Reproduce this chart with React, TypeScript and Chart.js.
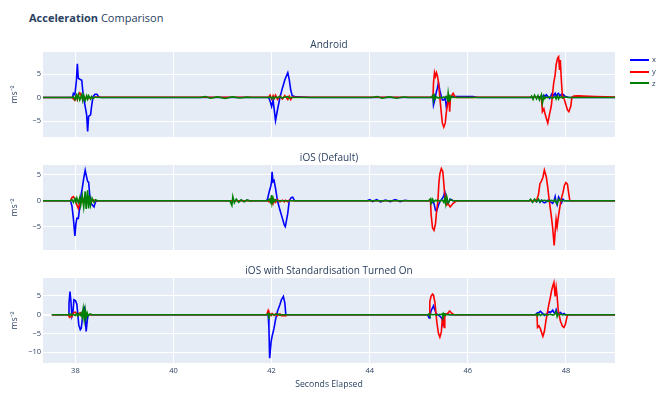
import { useEffect, useRef } from "react";
import { Chart, registerables } from "chart.js";

Chart.register(...registerables);

const FONT = '"Open Sans", verdana, arial, sans-serif';
const TEXT = "#2a3f5f";
Chart.defaults.font.family = FONT;
Chart.defaults.color = TEXT;

const seriesNames = ["x", "y", "z"];
const seriesColors = ["#0000ff", "#ff0000", "#008000"];
const xTicks = [38, 40, 42, 44, 46, 48];
const xRange = [37.34, 49.0];

// Android
const androidTime = [
  37.34, 37.94, 37.96, 37.99, 38.02, 38.04, 38.06, 38.09, 38.13, 38.15, 38.17, 38.2, 38.23, 38.25, 38.27,
  38.31, 38.33, 38.36, 38.4, 38.44, 38.48, 38.52, 40.55, 40.65, 40.75, 40.9, 41.05, 41.2, 41.35, 41.5,
  41.6, 41.94, 41.97, 42.0, 42.03, 42.05, 42.08, 42.12, 42.17, 42.22, 42.27, 42.33, 42.36, 42.39, 42.42,
  42.47, 42.61, 42.8, 44.05, 44.15, 44.25, 44.4, 44.55, 44.7, 44.8, 45.25, 45.29, 45.3, 45.32, 45.34,
  45.36, 45.38, 45.4, 45.43, 45.46, 45.48, 45.51, 45.54, 45.56, 45.59, 45.6, 45.62, 45.63, 45.645, 45.665,
  45.7, 45.73, 45.77, 46.1, 46.2, 47.28, 47.3, 47.33, 47.36, 47.4, 47.43, 47.46, 47.5, 47.52, 47.55,
  47.57, 47.6, 47.63, 47.67, 47.7, 47.72, 47.75, 47.78, 47.8, 47.83, 47.85, 47.87, 47.885, 47.91, 47.93,
  47.95, 47.99, 48.03, 48.06, 48.1, 48.12, 48.16, 48.25, 48.35, 48.6, 49.0,
];
const androidX = [
  0, 0, 0.9, 0.6, 3.5, 7.2, 4.1, 3.9, 3.7, 1.5, -0.2, -1.9, -3.7, -7.2, -4.0,
  -3.7, -1.9, 0.2, 0.7, 0.7, 0.1, 0, 0, 0, 0, 0, 0, 0, 0, 0,
  0, 0, -0.8, -1.9, -0.5, -2.3, -4.9, -2.6, 0, 2.0, 3.8, 5.3, 3.8, 1.6, 0.4,
  0.2, 0.1, 0, 0, 0, 0, 0, 0, 0, 0, 0, 0, -1.6, -0.8, 0.2,
  1.3, 2.0, 3.1, 1.5, 0.2, -0.5, -0.5, 0, -1.9, -0.8, 0, 0.1, 0.1, 0.1, 0.2,
  0.2, 0.2, 0.2, 0.2, 0, 0, 0, 0, 0.1, 0, 0.2, 0.1, 0.3, 0.2, 0.5,
  0.2, 0.6, 0.2, -0.2, 0.5, 0.9, 0.4, 0.9, 0.3, 0.8, 0.9, 0.3, 0.5, 0.7, 0.3,
  0.6, 0.2, 0.1, 0, 0, 0, 0, 0, 0, 0, 0,
];
const androidY = [
  0, 0, -0.3, -0.6, 0.3, -0.4, 0.5, 1.0, 0.2, -0.4, 0.3, -0.3, 0.2, -0.3, 0.2,
  -0.2, 0.1, -0.1, 0.1, 0.1, 0.07, 0.07, 0.07, 0.07, 0.07, 0.07, 0.07, 0.07, 0.07, 0.07,
  0.07, 0.1, 0.5, -0.3, 0.4, -0.2, 0.5, -0.4, 0.3, -0.3, 0.4, -0.4, 0.3, -0.4, 0.1,
  0.07, 0.07, 0.07, 0.05, 0.05, 0.05, 0.05, 0.05, 0.05, 0.05, 0.05, 0, 3.1, 5.3, 4.5,
  5.3, 4.6, 3.4, 0, -3.3, -5.4, -6.3, -5.4, -3.3, -1.2, 0, -1.2, -3.0, 0, 0.3,
  0.9, 0.3, 0, 0, 0.05, 0.05, 0.05, 0.05, 0.05, 0.05, 0, 0, 0, -3.0, -2.4,
  -3.3, -4.4, -5.4, -3.3, -1.9, 0, 3.1, 4.8, 7.0, 8.4, 8.7, 5.9, 8.0, 3.1, 0,
  0.2, -1.2, -2.6, -3.0, -1.8, 0, 0.3, 0.35, 0.3, 0.2, 0.12,
];
const androidZ = [
  0, 0, 0.2, -0.4, 0.5, -0.3, 0.6, -0.5, 0.6, -0.6, 0.5, -0.6, 0.4, -0.3, 0.4,
  -0.3, 0.2, -0.2, 0.1, 0, 0, 0, 0, 0.2, -0.15, 0.15, -0.2, 0.15, -0.1, 0.1,
  0, 0, 0.2, -0.2, 0.1, -0.2, 0.1, 0, 0.2, -0.1, 0.1, 0.2, -0.1, 0, 0,
  0, 0, 0, 0, 0.2, -0.15, 0.15, -0.15, 0.1, 0, 0, 0.5, -0.6, 0.4, -0.2,
  0.1, 0, -0.1, 0.1, -0.1, 0, 0.1, 0, 0.2, -0.5, 0.9, -0.7, 0.6, -0.3, 0.2,
  0, 0, 0, 0, 0, 0, 0.3, -0.4, 0.5, -0.3, 0.4, -0.5, 0.6, -1.2, 0.3,
  -0.2, 0.1, 0, 0.1, 0, -0.1, 0, 0.2, -0.3, 0.4, -0.3, 0.1, 0, 0.2, -0.1,
  0, 0.1, 0, 0, 0, 0, 0, 0, 0, 0, 0,
];
const androidYRange = [-8.4, 9.7];
const androidTicks = [-5, 0, 5];

// iOS (Default)
const iosTime = [
  37.34, 37.9, 37.93, 37.96, 37.99, 38.01, 38.03, 38.06, 38.09, 38.11, 38.14, 38.17, 38.2, 38.22, 38.25,
  38.27, 38.29, 38.31, 38.34, 38.38, 38.41, 38.45, 41.15, 41.19, 41.21, 41.24, 41.28, 41.33, 41.38, 41.44,
  41.5, 41.56, 41.62, 41.9, 41.92, 41.95, 41.98, 42.0, 42.01, 42.03, 42.05, 42.08, 42.12, 42.17, 42.22,
  42.26, 42.28, 42.33, 42.36, 42.4, 42.43, 42.47, 43.95, 44.0, 44.06, 44.14, 44.22, 44.32, 44.42, 44.52,
  44.62, 44.72, 44.78, 45.2, 45.24, 45.25, 45.28, 45.31, 45.34, 45.36, 45.39, 45.41, 45.43, 45.46, 45.49,
  45.51, 45.53, 45.55, 45.57, 45.6, 45.64, 45.7, 45.77, 47.25, 47.28, 47.32, 47.36, 47.4, 47.44, 47.47,
  47.5, 47.53, 47.56, 47.6, 47.63, 47.66, 47.7, 47.73, 47.76, 47.78, 47.8, 47.82, 47.85, 47.88, 47.91,
  47.94, 47.97, 48.0, 48.03, 48.06, 48.08, 49.0,
];
const iosX = [
  0, 0, -1.0, -3.5, -6.8, -4.5, -3.4, -3.4, -1.2, 0.8, 2.4, 4.3, 5.9, 5.0, 3.7,
  3.6, 1.4, -0.2, -0.8, -1.2, -0.2, 0, 0, 0, 0, 0, 0.1, -0.1, 0.1, -0.1,
  0.1, 0, 0, 0, 0.5, 1.7, 2.7, 3.7, 5.6, 3.7, 3.9, 2.4, 0, -1.8, -3.4,
  -4.7, -5.0, -2.4, 0, 0.6, 0.7, 0, 0, 0.2, -0.15, 0.2, -0.2, 0.15, -0.15, 0.2,
  -0.15, 0.1, 0, 0, 0, 0, -0.3, -0.5, -1.8, -2.0, -1.2, -0.6, -0.2, 0.2, 0.6,
  1.0, 1.7, 0.9, 0.2, -0.5, 0.3, 0, 0, 0, 0.1, -0.2, 0.2, -0.2, 0.2, -0.3,
  0.1, -0.2, -0.4, -0.2, 0.1, 0.1, -0.3, -0.5, 0.1, 0.8, -0.3, -0.8, 0.7, 0.2, -0.4,
  0.3, 0, 0, 0, 0, 0, 0,
];
const iosY = [
  0, 0, 0.6, 0.8, 0.3, -0.3, -0.8, -1.5, -0.5, 0.2, -0.2, 0.3, -0.2, 0.2, -0.2,
  0.2, -0.1, 0.1, -0.1, 0.1, 0, 0, 0, 0, 0, 0, 0, 0, 0, 0,
  0, 0, 0, 0, 0, -0.2, 0.3, -0.3, 0.2, -0.5, 0.2, -0.3, 0.2, -0.2, 0.1,
  -0.2, 0.1, -0.2, 0.1, 0, 0, 0, 0, 0, 0, 0, 0, 0, 0, 0,
  0, 0, 0, 0, 0, -2.5, -5.2, -5.7, -4.5, -2.4, 0, 3.4, 5.2, 6.2, 5.6,
  3.4, 1.0, -0.3, -0.8, -0.6, -1.2, -0.5, 0, 0, 0, 0, 0, 0, 1.2, 3.3,
  3.8, 4.5, 5.9, 4.6, 2.5, 0, -2.8, -5.3, -8.6, -6.0, -3.6, -5.0, -2.8, -1.0, 0.6,
  1.6, 3.0, 3.5, 3.2, 1.2, 0, 0,
];
const iosZ = [
  0, 0, 0.2, -0.3, 0.4, -0.2, 0.5, -0.4, 0.6, -0.8, 1.0, -1.2, 1.8, -1.6, 2.0,
  -1.5, 1.0, -0.8, 0.5, -0.3, 0.2, 0, 0, -0.9, 0.8, -0.4, 0.3, -0.3, 0.2, -0.2,
  0.15, -0.1, 0, 0, 0, 0.3, -0.3, 1.1, -0.4, 0.5, -0.2, 0.2, 0, 0, 0,
  0, 0, 0, 0, 0, 0, 0, 0, 0, 0, 0, 0, 0, 0, 0,
  0, 0, 0, 0, 0.4, -0.5, 0.3, -0.2, 0.1, 0, 0.1, 0, -0.1, 0.1, 0,
  -0.3, 0.5, -0.6, 0.8, -0.4, 0.2, 0, 0, 0, 0.3, -0.3, 0.3, -0.2, 0.3, -0.2,
  0.1, 0, 0.1, 0, -0.1, 0, 0.1, 0, -0.1, 0.2, -0.3, -0.6, 0.3, 0, 0.1,
  0, 0, 0, 0, 0, 0, 0,
];
const iosYRange = [-9.5, 6.9];
const iosTicks = [-5, 0, 5];

// iOS with Standardisation Turned On
const stdTime = [
  37.52, 37.85, 37.87, 37.89, 37.91, 37.93, 37.95, 37.97, 38.0, 38.03, 38.05, 38.07, 38.1, 38.12, 38.14,
  38.16, 38.18, 38.2, 38.22, 38.24, 38.26, 38.3, 38.34, 41.9, 41.93, 41.945, 41.96, 41.99, 42.01, 42.05,
  42.08, 42.12, 42.17, 42.2, 42.24, 42.27, 42.29, 42.31, 45.18, 45.21, 45.225, 45.25, 45.28, 45.3, 45.33,
  45.35, 45.37, 45.4, 45.43, 45.46, 45.48, 45.49, 45.5, 45.52, 45.53, 45.56, 45.6, 45.63, 45.67, 45.72,
  47.38, 47.41, 47.42, 47.45, 47.48, 47.51, 47.53, 47.56, 47.59, 47.62, 47.65, 47.68, 47.71, 47.73, 47.755,
  47.78, 47.8, 47.82, 47.84, 47.86, 47.89, 47.93, 47.96, 47.99, 48.02, 48.04, 49.0,
];
const stdX = [
  0, 0, 3.0, 6.2, 3.5, -0.4, 0.5, 4.0, 3.8, 2.8, 0, -2.8, -4.0, -3.6, -1.3,
  1.3, 1.8, -1.0, -4.5, -1.8, 0, 0, 0, 0, 0, -3.5, -11.6, -7.2, -5.8, -3.6,
  -1.3, 0.9, 2.7, 4.0, 4.9, 3.1, 0, 0, 0, -0.9, -0.3, 1.0, 1.8, 2.4, 1.2,
  0.5, 0.1, -0.1, -0.4, -0.8, -1.4, -1.8, -1.2, -0.3, 0, 0.2, 0.1, 0, 0, 0,
  0, 0.4, 0.5, 0.6, 0.9, 0.5, 0.3, -0.2, 0.1, 0.3, 0.8, 0.6, 0.9, 1.2, 0.6,
  0.4, 1.3, 0.5, 0.2, 0.4, 0.6, 0, 0.3, 0, 0, 0, 0,
];
const stdY = [
  0, 0, -0.4, -0.6, -0.6, -0.5, 0.2, 0.6, 0.7, 0.1, -0.2, 0.3, 0.5, 0.2, -0.3,
  0.2, -0.3, 0.3, -0.2, 0.1, 0, 0, 0, 0, 1.1, 0.5, 0.3, -0.2, 0.3, -0.2,
  0.2, -0.3, 0.2, -0.3, -0.3, -0.2, -0.3, 0, 0, 0, 3.5, 4.9, 5.5, 5.2, 3.2,
  0.4, -2.2, -4.9, -6.0, -4.6, -1.0, 0, -2.2, -3.4, 0, 0.1, 0.5, 1.0, 0.4, 0,
  0, 0, -3.4, -3.0, -3.8, -5.0, -5.8, -4.5, -1.8, 0.4, 2.6, 4.5, 6.6, 7.6, 8.6,
  4.9, 7.3, 5.0, 1.5, 0, -1.8, -3.1, -3.4, -2.5, -0.6, 0, 0,
];
const stdZ = [
  0, 0, 0.1, -0.2, 0.2, -0.1, 0.1, 0, -0.2, 0.3, -0.3, 0.2, -0.2, 0.4, -0.6,
  1.5, -1.2, 1.3, -0.8, 0.5, -0.3, 0.2, 0, 0, 0.3, -0.3, 0.2, -0.1, 0.1, 0,
  0, 0.2, -0.1, 0, 0, 0, 0, 0, 0, 0.2, -0.2, 0.1, 0, 0, 0.1,
  -0.1, 0, 0, 0.1, 0, 0.2, -0.2, 0.3, -0.2, 0.2, 0, 0, 0, 0, 0,
  0, 0.2, -0.3, 0.2, -0.2, 0.1, 0, 0.1, 0, -0.1, 0, 0.1, 0, -0.1, 0,
  0.3, 0.8, -0.5, 0.2, 0, 0.1, 0, 0, 0, 0, 0, 0,
];
const stdYRange = [-12.9, 9.8];
const stdTicks = [-10, -5, 0, 5];

const plotBackground = {
  id: "plotBackground",
  beforeDraw(chart: Chart) {
    const { ctx, chartArea } = chart;
    ctx.save();
    ctx.fillStyle = "#E5ECF6";
    ctx.fillRect(chartArea.left, chartArea.top, chartArea.width, chartArea.height);
    ctx.restore();
  },
};

function formatTick(value: number | string) {
  const v = Number(value);
  return v < 0 ? "\u2212" + Math.abs(v) : String(v);
}

type PanelProps = {
  title: string;
  time: number[];
  values: number[][];
  yRange: number[];
  yTicks: number[];
  top: number;
  showXAxis: boolean;
};

function Panel({ title, time, values, yRange, yTicks, top, showXAxis }: PanelProps) {
  const canvasRef = useRef<HTMLCanvasElement | null>(null);
  const chartRef = useRef<Chart | null>(null);
  const height = 22 + 85 + (showXAxis ? 29 : 0);

  useEffect(() => {
    const canvas = canvasRef.current;
    if (!canvas) {
      return;
    }

    chartRef.current?.destroy();
    chartRef.current = new Chart(canvas, {
      type: "line",
      data: {
        datasets: values.map((vals, i) => ({
          label: seriesNames[i],
          data: time.map((t, j) => ({ x: t, y: vals[j] })),
          borderColor: seriesColors[i],
          backgroundColor: seriesColors[i],
          borderWidth: 1.6,
          pointRadius: 0,
          tension: 0,
          order: 3 - i,
        })),
      },
      options: {
        animation: false,
        responsive: true,
        maintainAspectRatio: false,
        layout: { padding: { left: 0, right: 46, top: 0, bottom: 0 } },
        plugins: {
          legend: { display: false },
          tooltip: { enabled: false },
          title: {
            display: true,
            text: title,
            fullSize: false,
            color: TEXT,
            font: { family: FONT, size: 10, weight: "normal" },
            padding: { top: 9, bottom: 1 },
          },
        },
        scales: {
          x: {
            type: "linear",
            min: xRange[0],
            max: xRange[1],
            afterBuildTicks: (axis) => {
              axis.ticks = xTicks.map((value) => ({ value }));
            },
            afterFit: (axis) => {
              axis.height = showXAxis ? 29 : 0;
              axis.paddingLeft = 0;
              axis.paddingRight = 0;
            },
            border: { display: false },
            grid: { color: "#ffffff", lineWidth: 1, drawTicks: false },
            ticks: {
              display: showXAxis,
              padding: 3,
              color: TEXT,
              font: { family: FONT, size: 7.5 },
            },
            title: {
              display: showXAxis,
              text: "Seconds Elapsed",
              color: TEXT,
              font: { family: FONT, size: 8.7 },
              padding: { top: 0, bottom: 2 },
            },
          },
          y: {
            type: "linear",
            min: yRange[0],
            max: yRange[1],
            afterBuildTicks: (axis) => {
              axis.ticks = yTicks.map((value) => ({ value }));
            },
            afterFit: (axis) => {
              axis.width = 43;
              axis.paddingTop = 0;
              axis.paddingBottom = 0;
            },
            border: { display: false },
            grid: {
              color: "#ffffff",
              lineWidth: (ctx) => (ctx.tick && ctx.tick.value === 0 ? 2 : 1),
              drawTicks: false,
            },
            ticks: {
              padding: 2,
              color: TEXT,
              font: { family: FONT, size: 7.5 },
              callback: (value) => formatTick(value),
            },
            title: {
              display: true,
              text: "ms\u207B\u00B2",
              color: TEXT,
              font: { family: FONT, size: 8.7 },
              padding: { top: 9, bottom: 0 },
            },
          },
        },
      },
      plugins: [plotBackground],
    });

    return () => {
      chartRef.current?.destroy();
      chartRef.current = null;
    };
  }, [title, time, values, yRange, yTicks, showXAxis]);

  return (
    <div style={{ position: "absolute", left: 0, top, width: 661, height }}>
      <canvas ref={canvasRef} />
    </div>
  );
}

export default function App() {
  return (
    <div
      style={{
        position: "fixed",
        left: 0,
        top: 0,
        width: 661,
        height: 400,
        background: "#ffffff",
        fontFamily: FONT,
        color: TEXT,
        overflow: "hidden",
      }}
    >
      <div
        style={{
          position: "absolute",
          left: 29,
          top: 12.3,
          fontSize: 11,
          lineHeight: 1,
          whiteSpace: "nowrap",
        }}
      >
        <b>Acceleration</b> Comparison
      </div>

      <Panel
        title="Android"
        time={androidTime}
        values={[androidX, androidY, androidZ]}
        yRange={androidYRange}
        yTicks={androidTicks}
        top={30}
        showXAxis={false}
      />
      <Panel
        title="iOS (Default)"
        time={iosTime}
        values={[iosX, iosY, iosZ]}
        yRange={iosYRange}
        yTicks={iosTicks}
        top={143}
        showXAxis={false}
      />
      <Panel
        title="iOS with Standardisation Turned On"
        time={stdTime}
        values={[stdX, stdY, stdZ]}
        yRange={stdYRange}
        yTicks={stdTicks}
        top={256}
        showXAxis={true}
      />

      <div style={{ position: "absolute", left: 630, top: 54.2 }}>
        {seriesNames.map((name, i) => (
          <div key={name} style={{ display: "flex", alignItems: "center", height: 11.65 }}>
            <span style={{ display: "inline-block", width: 19, height: 2, background: seriesColors[i] }} />
            <span style={{ marginLeft: 3, fontSize: 7.5, lineHeight: 1 }}>{name}</span>
          </div>
        ))}
      </div>
    </div>
  );
}
